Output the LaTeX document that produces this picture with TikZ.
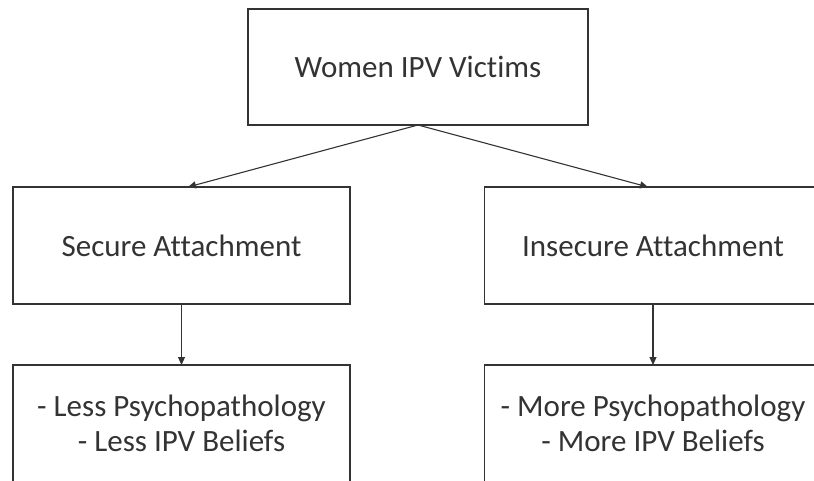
\documentclass[tikz,border=0pt]{standalone}
\usepackage{fontspec}
\setmainfont{Carlito}[Ligatures=NoCommon]
\usetikzlibrary{arrows.meta,positioning}
\tikzset{
  blk/.style={draw=black!80,rectangle,minimum width=337pt,minimum height=117pt,line width=1.2pt,align=center,text=black!80,font=\fontsize{31pt}{35pt}\selectfont},
  arr/.style={-{Triangle[length=8pt,width=7pt]},line width=1.1pt,draw=black!80}
}
\begin{document}
\begin{tikzpicture}[x=1pt,y=1pt,inner sep=0pt,outer sep=0pt]
  \useasboundingbox (0,0) rectangle (814,-480);
  \clip (0,0) rectangle (814,-480);
  \node[blk, minimum width=340pt, minimum height=116pt] (victims) at (418,-67) {Women IPV Victims};
  \node[blk] (secure) at (181.5,-245.5) {Secure Attachment};
  \node[blk, right=134.5pt of secure] (insecure) {Insecure Attachment};
  \node[blk, below=61pt of secure] (less) {- Less Psychopathology\\- Less IPV Beliefs};
  \node[blk, below=61pt of insecure] (more) {- More Psychopathology\\- More IPV Beliefs};

  \draw[arr] (victims.south) -- ([xshift=6.5pt]secure.north);
  \draw[arr] (victims.south) -- ([xshift=-5pt]insecure.north);
  \draw[arr] (secure) -- (less);
  \draw[arr] (insecure) -- (more);
\end{tikzpicture}
\end{document}
